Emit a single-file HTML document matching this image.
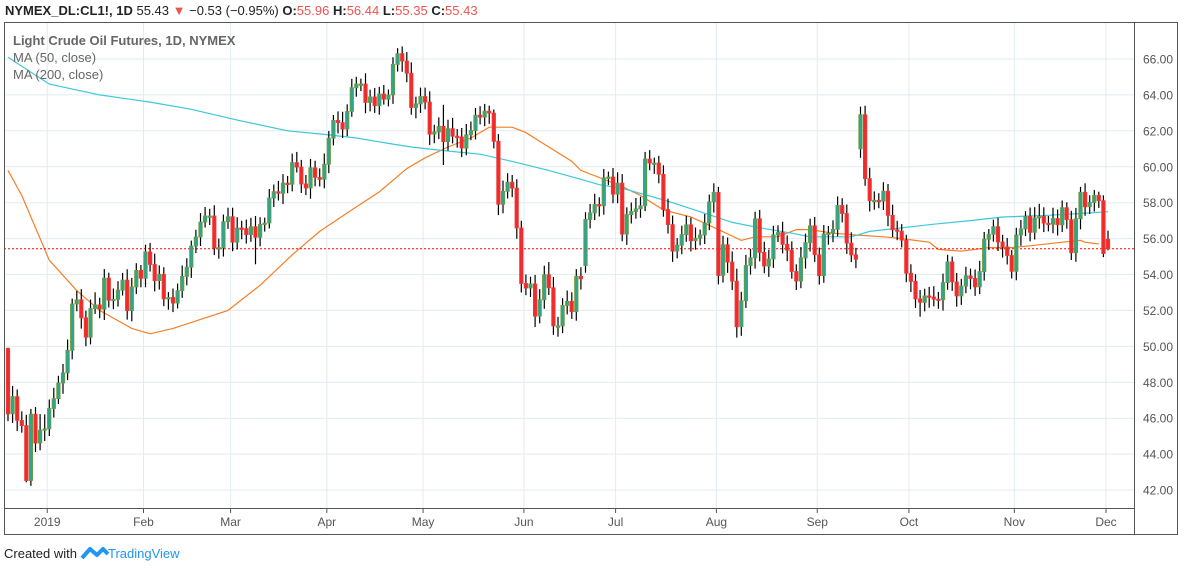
<!DOCTYPE html>
<html><head><meta charset="utf-8"><style>
html,body{margin:0;padding:0;background:#fff;width:1184px;height:569px;overflow:hidden;font-family:"Liberation Sans",sans-serif}
svg text{font-family:"Liberation Sans",sans-serif}
</style></head><body>
<svg id="chart" width="1184" height="569" xmlns="http://www.w3.org/2000/svg">
<g id="grid"></g>
<g id="ma"></g>
<g id="candles"></g>
<g id="axes"></g>
<rect x="4.5" y="22.5" width="1173" height="512" fill="none" stroke="#555" stroke-width="1"/>
<line x1="4" y1="508.5" x2="1134" y2="508.5" stroke="#555"/>
<line x1="1134.5" y1="22" x2="1134.5" y2="535" stroke="#555"/>
<text x="5" y="15" font-size="13" fill="#222"><tspan font-weight="bold">NYMEX_DL:CL1!, 1D</tspan> 55.43 <tspan fill="#ef5350">▼</tspan> −0.53 (−0.95%) <tspan font-weight="bold">O:</tspan><tspan fill="#ef5350">55.96</tspan> <tspan font-weight="bold">H:</tspan><tspan fill="#ef5350">56.44</tspan> <tspan font-weight="bold">L:</tspan><tspan fill="#ef5350">55.35</tspan> <tspan font-weight="bold">C:</tspan><tspan fill="#ef5350">55.43</tspan></text>
<text x="13" y="45" font-size="13" font-weight="bold" fill="#666">Light Crude Oil Futures, 1D, NYMEX</text>
<text x="13" y="62" font-size="13" fill="#666">MA (50, close)</text>
<text x="13" y="79" font-size="13" fill="#666">MA (200, close)</text>
<text x="4" y="558" font-size="13" fill="#222">Created with</text>
<g>
<path d="M82 558 L90 549 L97 555 L103 549 L108 554" fill="none" stroke="#2196f3" stroke-width="4" stroke-linejoin="round"/>
<text x="108" y="558" font-size="13" fill="#2196f3">TradingView</text>
</g>
</svg>
<script>
const opens=[49.88,46.24,47.20,45.88,45.59,42.53,46.22,44.61,45.33,
45.41,46.54,47.09,47.96,48.52,49.78,52.36,52.59,51.59,50.51,52.11,52.31,52.07,53.80,52.57,52.62,53.13,53.69,51.99,53.31,54.23,
53.79,55.26,54.56,53.66,54.01,52.64,52.72,52.41,53.10,53.90,54.41,55.59,56.09,56.92,57.26,57.26,55.48,55.50,56.94,
57.22,55.80,56.59,56.56,56.22,56.66,56.07,56.79,56.87,58.26,58.61,58.52,59.09,59.03,60.23,59.98,59.04,58.82,59.94,59.41,59.30,
60.14,61.59,62.58,62.46,62.10,63.08,64.40,64.61,64.61,63.58,63.89,63.40,64.05,63.76,64.00,65.70,66.30,65.89,65.21,63.30,63.50,
63.91,63.60,61.81,61.94,62.25,61.40,62.12,61.70,61.66,61.04,61.78,62.02,62.87,62.76,63.10,62.99,61.42,57.91,58.63,59.14,58.81,56.59,
53.50,53.25,53.48,51.68,52.59,53.99,53.26,51.14,51.14,52.28,52.51,51.93,53.90,54.50,57.07,57.43,57.90,57.83,59.38,59.43,
58.47,59.09,56.25,57.34,57.51,57.66,57.83,60.43,60.20,60.21,59.58,57.62,56.78,55.30,55.63,56.22,56.77,55.88,56.02,56.20,56.87,58.05,
58.58,53.95,55.66,54.69,53.63,51.09,52.54,54.50,54.93,57.10,55.23,54.47,54.87,56.21,56.34,55.68,55.35,54.17,53.64,54.93,55.78,56.71,
55.10,53.94,56.26,56.30,56.52,57.85,57.40,55.75,55.09,61.00,62.90,59.34,58.11,58.13,58.09,58.64,57.29,56.49,56.41,55.91,
54.07,53.62,52.64,52.45,52.81,52.75,52.63,52.59,53.55,54.70,53.59,52.81,53.36,53.93,53.78,53.31,54.16,55.97,56.23,56.66,55.81,55.54,55.06,
54.18,56.20,56.54,57.23,56.35,57.15,57.24,56.86,56.80,57.12,56.77,57.72,57.05,55.21,57.11,58.58,57.77,58.01,58.41,58.11,
55.96];
const closes=[46.24,47.20,45.88,45.59,42.53,46.22,44.61,45.33,45.41,
46.54,47.09,47.96,48.52,49.78,52.36,52.59,51.59,50.51,52.11,52.31,52.07,53.80,52.57,52.62,53.13,53.69,51.99,53.31,54.23,53.79,
55.26,54.56,53.66,54.01,52.64,52.72,52.41,53.10,53.90,54.41,55.59,56.09,56.92,57.26,57.26,55.48,55.50,56.94,57.22,
55.80,56.59,56.56,56.22,56.66,56.07,56.79,56.87,58.26,58.61,58.52,59.09,59.03,60.23,59.98,59.04,58.82,59.94,59.41,59.30,60.14,
61.59,62.58,62.46,62.10,63.08,64.40,64.61,64.61,63.58,63.89,63.40,64.05,63.76,64.00,65.70,66.30,65.89,65.21,63.30,63.50,63.91,
63.60,61.81,61.94,62.25,61.40,62.12,61.70,61.66,61.04,61.78,62.02,62.87,62.76,63.10,62.99,61.42,57.91,58.63,59.14,58.81,56.59,53.50,
53.25,53.48,51.68,52.59,53.99,53.26,51.14,51.14,52.28,52.51,51.93,53.90,53.76,57.07,57.43,57.90,57.83,59.38,59.43,58.47,
59.09,56.25,57.34,57.51,57.66,57.83,60.43,60.20,60.21,59.58,57.62,56.78,55.30,55.63,56.22,56.77,55.88,56.02,56.20,56.87,58.05,58.58,
53.95,55.66,54.69,53.63,51.09,52.54,54.50,54.93,57.10,55.23,54.47,54.87,56.21,56.34,55.68,55.35,54.17,53.64,54.93,55.78,56.71,55.10,
53.94,56.26,56.30,56.52,57.85,57.40,55.75,55.09,54.85,62.90,59.34,58.11,58.13,58.09,58.64,57.29,56.49,56.41,55.91,54.07,
53.62,52.64,52.45,52.81,52.75,52.63,52.59,53.55,54.70,53.59,52.81,53.36,53.93,53.78,53.31,54.16,55.97,56.23,56.66,55.81,55.54,55.06,54.18,
56.20,56.54,57.23,56.35,57.15,57.24,56.86,56.80,57.12,56.77,57.72,57.05,55.21,57.11,58.58,57.77,58.01,58.41,58.11,55.17,
55.43];
const upWick=[0.05,0.6,0.4,0.5,0.6,0.3,0.4,0.9,0.8,
0.5,0.6,0.4,0.5,0.6,0.3,0.5,0.6,0.4,0.5,0.7,0.4,0.5,0.3,0.6,0.5,0.4,0.6,0.5,0.4,0.3,
0.4,0.5,0.6,0.5,0.4,0.3,0.5,0.4,0.6,0.5,0.3,0.4,0.5,0.5,0.4,0.6,0.5,0.4,0.5,
0.5,0.6,0.4,0.5,0.5,0.6,0.4,0.3,0.5,0.4,0.6,0.5,0.4,0.5,0.6,0.4,0.5,0.5,0.4,0.5,0.6,
0.4,0.3,0.5,0.6,0.4,0.5,0.4,0.3,0.6,0.4,0.5,0.4,0.5,0.3,0.4,0.3,0.4,0.5,0.6,0.4,0.5,
0.5,0.6,0.4,0.5,1.2,0.5,0.6,0.4,0.5,0.6,0.5,0.4,0.5,0.4,0.3,0.2,0.4,0.6,0.5,0.4,0.5,0.4,
0.5,0.4,0.5,0.6,0.5,0.7,0.6,0.5,0.4,0.6,0.5,0.4,0.5,0.4,0.5,0.6,0.4,0.5,0.3,0.5,
0.6,0.5,0.4,0.5,0.6,0.5,0.4,0.5,0.3,0.4,0.5,0.6,0.5,0.4,0.5,0.5,0.4,0.6,0.3,0.5,0.4,0.5,
0.3,0.5,0.4,0.6,0.7,0.5,0.6,0.5,0.4,0.5,0.6,0.5,0.5,0.4,0.6,0.5,0.5,0.4,0.6,0.5,0.4,0.5,
0.4,0.5,0.4,0.5,0.5,0.4,0.5,0.6,0.4,0.45,0.5,0.6,0.5,0.4,0.5,0.4,0.6,0.5,0.4,0.3,
0.5,0.4,0.5,0.4,0.5,0.6,0.4,0.5,0.4,0.3,0.5,0.4,0.5,0.4,0.5,0.6,0.4,0.3,0.4,0.5,0.4,0.5,0.3,
0.4,0.5,0.3,0.5,0.6,0.7,0.5,0.4,0.6,0.5,0.4,0.3,0.5,0.6,0.3,0.5,0.4,0.3,0.2,0.3,
0.48];
const downWick=[0.4,0.5,0.6,0.4,0.1,0.3,0.5,0.4,0.6,
0.4,0.5,0.3,0.6,0.4,0.5,0.4,0.6,0.5,0.4,0.3,0.5,0.6,0.4,0.5,0.4,0.3,0.5,0.6,0.4,0.5,
0.5,0.4,0.6,0.5,0.4,0.6,0.5,0.3,0.4,0.5,0.6,0.4,0.5,0.3,0.5,0.4,0.6,0.5,0.4,
0.5,0.4,0.6,0.5,0.4,1.5,0.5,0.4,0.3,0.5,0.4,0.6,0.5,0.4,0.3,0.5,0.4,0.6,0.5,0.4,0.5,
0.5,0.4,0.6,0.5,0.4,0.3,0.5,0.4,0.6,0.5,0.4,0.5,0.3,0.4,0.5,0.4,0.6,0.5,0.4,0.6,0.5,
0.4,0.6,0.5,0.4,1.3,0.5,0.4,0.6,0.5,0.4,0.3,0.5,0.4,0.5,0.6,0.4,0.6,0.5,0.4,0.5,0.6,0.5,
0.4,0.5,0.6,0.4,0.5,0.4,0.5,0.6,0.4,0.5,0.4,0.5,0.6,0.4,0.5,0.4,0.6,0.5,0.4,0.5,
0.5,0.4,0.6,0.5,0.4,0.5,0.3,0.4,0.6,0.5,0.4,0.5,0.6,0.4,0.5,0.4,0.6,0.5,0.4,0.5,0.4,0.6,
0.5,0.4,0.6,0.5,0.6,0.5,0.4,0.5,0.6,0.5,0.4,0.6,0.5,0.4,0.5,0.6,0.4,0.5,0.4,0.6,0.5,0.4,
0.5,0.4,0.6,0.5,0.4,0.5,0.6,0.4,0.5,0.5,0.4,0.6,0.5,0.4,0.5,0.6,0.4,0.5,0.4,0.5,
0.6,0.5,0.8,0.5,0.6,0.4,0.5,0.6,0.4,0.5,0.6,0.5,0.4,0.6,0.5,0.4,0.5,0.6,0.4,0.5,0.6,0.5,0.4,
0.5,0.6,0.4,0.5,0.4,0.6,0.5,0.4,0.5,0.6,0.4,0.5,0.4,0.5,0.6,0.5,0.4,0.5,0.4,0.2,
0.08];
const ma50Idx=[0,3,9,15,20,27,31,36,42,48,55,62,68,75,81,87,91,96,101,105,110,113,118,123,125,129,134,138,143,149,155,160,163,168,172,175,180,185,191,195,201,203,208,214,219,223,230,234,235,238];
const ma50Val=[59.8,58.4,54.8,53.1,52.0,51.0,50.7,51.0,51.5,52.0,53.4,55.1,56.4,57.6,58.6,59.9,60.5,61.1,61.6,62.2,62.2,61.9,61.1,60.3,59.8,59.4,58.9,58.4,57.6,57.2,56.5,55.9,56.1,56.1,56.5,56.5,56.3,56.2,56.1,56.0,55.8,55.4,55.3,55.5,55.5,55.6,55.8,55.9,55.8,55.7];
const ma200Idx=[0,9,20,31,40,50,61,69,76,83,88,95,103,110,118,125,129,134,141,145,151,158,164,171,175,184,188,195,202,210,217,227,234,240];
const ma200Val=[66.1,64.6,64.0,63.6,63.2,62.6,62.0,61.8,61.6,61.3,61.1,60.9,60.7,60.3,59.8,59.3,59.0,58.8,58.3,58.0,57.5,56.9,56.6,56.3,56.1,56.1,56.4,56.6,56.8,57.0,57.2,57.3,57.4,57.5];
const yTicks=[42,44,46,48,50,52,54,56,58,60,62,64,66];
const monthLabels=["2019","Feb","Mar","Apr","May","Jun","Jul","Aug","Sep","Oct","Nov","Dec"];
const monthStartIdx=[9,30,49,70,91,113,133,155,177,197,220,240];
const lastPrice=55.43;

const NS="http://www.w3.org/2000/svg";
const N=closes.length;
function xAt(i){return 8+i*(1100/(N-1));}
function yAt(v){return 59+(66-v)*17.96;}
function mk(tag,attrs,parent){const e=document.createElementNS(NS,tag);for(const k in attrs)e.setAttribute(k,attrs[k]);parent.appendChild(e);return e;}
const grid=document.getElementById('grid'),axes=document.getElementById('axes');
yTicks.forEach(v=>{
  const l=mk('line',{x1:4,x2:1134,y1:yAt(v).toFixed(1),y2:yAt(v).toFixed(1),stroke:'#e1ecf2','stroke-width':1},grid);
  
  
  const t=mk('text',{x:1143,y:(yAt(v)+4.5).toFixed(1),'font-size':12,fill:'#555'},axes);
  t.textContent=v.toFixed(2);
  
  
});
monthStartIdx.forEach((i,k)=>{
  const x=xAt(i)-2;
  const l=mk('line',{x1:x,x2:x,y1:22,y2:508,stroke:'#e1ecf2','stroke-width':1},grid);
  
  
  const tk=mk('line',{x1:x,x2:x,y1:508,y2:513,stroke:'#555'},axes);
  
  
  const t=mk('text',{x:x,y:526,'font-size':12,fill:'#555','text-anchor':'middle'},axes);
  t.textContent=monthLabels[k];
  
  
});
const maG=document.getElementById('ma');
function maPath(idx,val,color,name){
  const d=idx.map((i,k)=>(k?'L':'M')+xAt(i).toFixed(1)+' '+yAt(val[k]).toFixed(1)).join(' ');
  const p=mk('path',{d:d,fill:'none',stroke:color,'stroke-width':1.2},maG);
  
  
}
maPath(ma50Idx,ma50Val,'#f57f25','ma50-line');
maPath(ma200Idx,ma200Val,'#3cc8d8','ma200-line');
const pl=mk('line',{x1:4,x2:1134,y1:yAt(lastPrice).toFixed(1),y2:yAt(lastPrice).toFixed(1),stroke:'#f00','stroke-width':1,'stroke-dasharray':'2,2'},maG);


const cg=document.getElementById('candles');
for(let i=0;i<N;i++){
  const o=opens[i],c=closes[i],hi=Math.max(o,c)+upWick[i],lo=Math.min(o,c)-downWick[i];
  const x=xAt(i),up=c>=o;
  const w=mk('line',{x1:x.toFixed(1),x2:x.toFixed(1),y1:yAt(hi).toFixed(1),y2:yAt(lo).toFixed(1),stroke:'#000','stroke-width':1.2},cg);
  
  
  const top=yAt(Math.max(o,c)),bh=Math.max(1.5,yAt(Math.min(o,c))-top);
  const b=mk('rect',{x:(x-1.7).toFixed(1),y:top.toFixed(1),width:3.4,height:bh.toFixed(1),fill:up?'#2fa58d':'#f22a2a',stroke:up?'#6d9a3c':'#f03a3a','stroke-width':0.8},cg);
  
  
}
</script>
</body></html>
